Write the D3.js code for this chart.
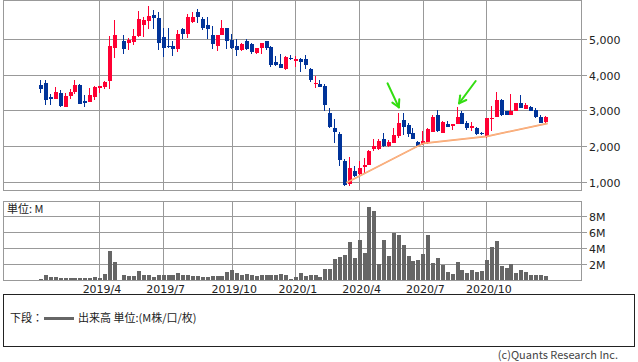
<!DOCTYPE html>
<html><head><meta charset="utf-8">
<script src="https://cdn.jsdelivr.net/npm/d3@7"></script>
<style>
body{margin:0;background:#fff}
svg{display:block}
text{font-family:"DejaVu Sans",Verdana,sans-serif}
.jp{font-family:"Noto Sans CJK JP","DejaVu Sans",sans-serif}
</style>
</head><body>
<svg id="c" width="638" height="362"></svg>
<script>
// Weekly candles, 2019/1/7 .. 2020/12/28 (week of 2019/4/29 had no trading)
const weeks = d3.timeMonday.range(new Date(2019,0,7), new Date(2021,0,4));
const openP  = [3713,3769,3377,3330,3480,3106,3415,3517,3713,3275,3245,3385,3629,3657,3833,4757,null,4944,4900,4924,
  5092,5391,5512,5671,5587,5056,4804,4804,4720,5271,5148,5484,5755,5559,5391,5112,4804,5112,5307,4980,
  4804,4692,4944,4868,4617,4757,4944,4776,4356,4300,4170,4459,4393,4440,4440,4161,3741,3741,3694,2930,
  2519,2343,1587,935,1308,1215,1428,1475,1914,1914,2194,2007,2100,2287,2734,2594,2380,2128,2063,2091,
  2412,2874,2370,2630,2566,2617,2940,2660,2519,2519,2362,2287,2776,2810,3294,2994,2866,2994,3200,3050,
  3106,3005,2818,2678];
const highP  = [3853,3853,3453,3650,3573,3480,3595,3853,3730,3433,3620,3685,3685,3833,5092,5531,null,5112,5036,5280,
  5783,5624,5923,5811,5755,5300,5307,4952,5251,5307,5699,5746,5839,5624,5615,5363,5112,5531,5307,5140,
  5000,4896,5000,4896,4748,4888,4944,4804,4524,4580,4524,4552,4524,4477,4552,4189,3965,3853,3741,3070,
  2754,2400,1650,1699,1448,1587,1663,1895,2194,2203,2380,2175,2510,2922,2940,2650,2500,2155,2426,2510,
  2874,3014,2706,2697,2630,3106,2986,2697,2678,2547,2390,2790,3126,3526,3321,2994,3461,3218,3425,3218,
  3126,3070,2865,2855];
const lowP   = [3500,3162,3162,3330,3106,3106,3330,3461,3170,3106,3245,3294,3500,3601,3601,4477,null,4590,4692,4832,
  5064,5064,5271,5288,4692,4505,4740,4533,4645,4991,5036,5456,5456,5251,5000,4720,4664,5112,4720,4720,
  4533,4673,4692,4590,4590,4590,4692,4225,4245,4197,4133,4412,4225,4085,4170,3805,3638,3650,2995,2519,
  2099,1448,888,897,1150,1176,1260,1475,1875,1895,1987,1979,2091,2231,2315,2268,2203,1987,2040,2063,
  2390,2407,2360,2530,2463,2617,2614,2454,2435,2306,2306,2231,2435,2810,2846,2866,2866,2994,3070,3033,
  2977,2790,2642,2658];
const closeP = [3601,3305,3321,3517,3126,3405,3517,3713,3190,3218,3433,3657,3685,3805,4804,5112,null,4720,4980,5092,
  5559,5531,5643,5596,4896,4757,4768,4720,5140,5148,5615,5615,5624,5307,5279,4868,5112,5307,4952,4757,
  4692,4868,4720,4645,4748,4888,4757,4281,4281,4197,4496,4432,4432,4365,4281,3853,3777,3666,3162,2547,
  2407,1615,916,1400,1168,1400,1475,1867,2007,2147,2007,2128,2315,2660,2547,2343,2203,2007,2150,2482,
  2818,2426,2678,2547,2630,2818,2622,2500,2566,2334,2334,2790,2804,3294,2874,2882,2994,3200,3070,3154,
  2994,2827,2664,2818];
const volumeM = [0.15,0.62,0.42,0.42,0.30,0.30,0.25,0.30,0.30,0.30,0.30,0.42,0.30,0.75,3.67,2.25,null,0.62,0.46,0.54,
  1.12,0.58,0.67,0.33,0.58,0.58,0.62,0.67,0.92,0.67,0.58,0.46,0.50,0.42,0.42,0.54,0.54,0.46,1.04,1.25,
  0.92,0.67,0.71,0.58,0.46,0.58,0.62,0.62,0.67,0.71,0.62,0.15,0.37,0.92,0.54,0.62,0.62,0.37,1.37,1.37,
  2.62,2.87,3.12,4.75,2.75,5.00,3.37,9.12,8.62,2.00,5.00,3.00,5.87,5.62,4.37,3.00,2.37,2.50,3.25,5.62,
  2.12,2.75,1.87,1.00,0.75,2.25,1.25,0.87,1.25,1.00,1.12,2.50,4.12,4.87,1.75,1.50,2.00,0.87,1.25,1.00,
  0.62,0.62,0.62,0.50];
const priceTicks = [1000,2000,3000,4000,5000];
const volTicks = [2,4,6,8];
const monthLabels = ["2019/4","2019/7","2019/10","2020/1","2020/4","2020/7","2020/10"];
// support line through lows (week index, price)
const trendIdx = [62.3,78,91,103.4];
const trendVal = [980,2082,2278,2642];
// green arrows: [fromIdx, fromVal, toIdx, toVal]
const arrows = [[70.7,3761,73.0,3089],[88.7,3825,85.3,3201]];

const svg = d3.select("#c");
const x = d3.scaleLinear().domain([-7.8,110.4]).range([3,582]);
const yP = d3.scaleLinear().domain([776,6063]).range([190,1]);
const yV = d3.scaleLinear().domain([0,9.8]).range([280,201.5]);
const grid = "#999";
const monthIdx = monthLabels.map(s=>{const [y,m]=s.split("/").map(Number);return weeks.findIndex(d=>d.getFullYear()===y&&d.getMonth()===m-1);});

function panel(y0,y1,scale,ticks,fmt){
  const g = svg.append("g");
  g.selectAll("line.h").data(ticks).join("line")
    .attr("x1",3).attr("x2",587).attr("y1",d=>Math.round(scale(d))+0.5).attr("y2",d=>Math.round(scale(d))+0.5)
    .attr("stroke",grid);
  g.selectAll("line.v").data(monthIdx).join("line")
    .attr("x1",d=>Math.round(x(d)-0.7)+0.5).attr("x2",d=>Math.round(x(d)-0.7)+0.5).attr("y1",y0).attr("y2",y1)
    .attr("stroke",grid);
  g.append("rect").attr("x",3.5).attr("y",y0+0.5).attr("width",578).attr("height",y1-y0).attr("fill","none").attr("stroke",grid);
  g.selectAll("text").data(ticks).join("text")
    .attr("x",589).attr("y",d=>Math.round(scale(d))+4.5).attr("font-size",11).attr("fill","#222").text(fmt);
}
panel(0,190,yP,priceTicks,d3.format(","));
panel(201,280,yV,volTicks,d=>d+"M");

const idx = d3.range(weeks.length).filter(i=>openP[i]!=null);
const cg = svg.append("g");
idx.forEach(i=>{
  const up = closeP[i]>=openP[i];
  const col = up?"#ff0033":"#003399";
  const bx = Math.round(x(i)-2);
  cg.append("line").attr("x1",bx+1.5).attr("x2",bx+1.5)
    .attr("y1",Math.round(yP(highP[i]))).attr("y2",Math.round(yP(lowP[i]))).attr("stroke",col);
  const t = Math.round(yP(Math.max(openP[i],closeP[i])));
  const b = Math.round(yP(Math.min(openP[i],closeP[i])));
  cg.append("rect").attr("x",bx).attr("width",4).attr("y",t).attr("height",Math.max(1,b-t)).attr("fill",col);
});

svg.append("g").selectAll("rect").data(idx).join("rect")
  .attr("x",i=>Math.round(x(i)-2)).attr("width",4)
  .attr("y",i=>Math.round(yV(volumeM[i]))).attr("height",i=>280-Math.round(yV(volumeM[i])))
  .attr("fill","#666");

// trend line
const tl = d3.line().x(d=>x(d[0])).y(d=>yP(d[1]));
const tp = trendIdx.map((d,k)=>[d,trendVal[k]]);
svg.append("path").attr("d",tl(tp)).attr("fill","none").attr("stroke","#f7995c").attr("stroke-width",1.7);
svg.append("path").attr("d",tl(tp)).attr("fill","none").attr("stroke","#fcd2b4").attr("stroke-width",0.5);

// arrows
arrows.forEach(a=>{
  const x0=x(a[0]),y0=yP(a[1]),x1=x(a[2]),y1=yP(a[3]);
  const ang=Math.atan2(y1-y0,x1-x0), L=8;
  const g=svg.append("g").attr("stroke","#33dd11").attr("stroke-width",2).attr("stroke-linecap","round").attr("fill","none");
  g.append("line").attr("x1",x0).attr("y1",y0).attr("x2",x1).attr("y2",y1);
  [-0.5,0.5].forEach(s=>g.append("line").attr("x1",x1).attr("y1",y1)
    .attr("x2",x1-L*Math.cos(ang+s)).attr("y2",y1-L*Math.sin(ang+s)));
});

svg.append("text").attr("class","jp").attr("x",7).attr("y",213).attr("font-size",11).attr("fill","#222").text("単位: M");

svg.selectAll("text.xl").data(monthIdx).join("text").attr("class","xl")
  .attr("x",d=>x(d)+2).attr("y",293).attr("text-anchor","middle").attr("font-size",11).attr("fill","#222")
  .text((d,k)=>monthLabels[k]);

// legend
svg.append("rect").attr("x",3.5).attr("y",294.5).attr("width",631).attr("height",52).attr("fill","none").attr("stroke","#222");
svg.append("text").attr("class","jp").attr("x",10).attr("y",322).attr("font-size",11).attr("fill","#222").text("下段：");
svg.append("line").attr("x1",44).attr("x2",74).attr("y1",318.5).attr("y2",318.5).attr("stroke","#666").attr("stroke-width",3);
svg.append("text").attr("class","jp").attr("x",78).attr("y",322).attr("font-size",11).attr("fill","#222").text("出来高 単位:(M株/口/枚)");
svg.append("text").attr("class","jp").attr("x",618).attr("y",359).attr("text-anchor","end").attr("font-size",11).attr("fill","#444").text("(c)Quants Research Inc.");
</script>
</body></html>
